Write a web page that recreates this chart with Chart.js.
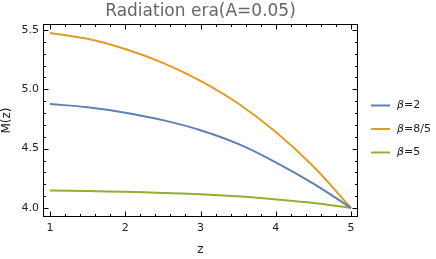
<!DOCTYPE html>
<html>
<head>
<meta charset="utf-8">
<script src="https://cdn.jsdelivr.net/npm/chart.js@4/dist/chart.umd.min.js"></script>
<style>
html,body{margin:0;padding:0;background:#fff;}
#wrap{width:436px;height:259px;position:relative;}
</style>
</head>
<body>
<div id="wrap"><canvas id="c" width="436" height="259"></canvas></div>
<script>
// ---- data ----
const zValues   = [1, 1.5, 2, 2.5, 3, 3.5, 4, 4.5, 5];
const beta2     = [4.876, 4.848, 4.803, 4.740, 4.655, 4.540, 4.385, 4.205, 4.000];
const beta8_5   = [5.475, 5.425, 5.340, 5.222, 5.070, 4.880, 4.640, 4.350, 4.000];
const beta5     = [4.148, 4.143, 4.136, 4.127, 4.115, 4.098, 4.072, 4.042, 4.000];
const seriesLabels = ['=2', '=8/5', '=5'];
const xTicks = [1, 2, 3, 4, 5];
const yTicks = [4.0, 4.5, 5.0, 5.5];
const titleText = 'Radiation era(A=0.05)';

const colors = ['#5E81B5', '#E19C24', '#8FB032'];
const FONT = 'DejaVu Sans';

function pts(ys){ return zValues.map((z,i)=>({x:z, y:ys[i]})); }

const framePlugin = {
  id: 'frame',
  afterDatasetsDraw(chart){
    const ctx = chart.ctx, a = chart.chartArea;
    const xs = chart.scales.x, ys = chart.scales.y;
    ctx.save();
    ctx.strokeStyle = '#000';
    ctx.lineWidth = 1;
    const L = Math.round(a.left)+0.5, R = Math.round(a.right)-0.5;
    const T = Math.round(a.top)+0.5, B = Math.round(a.bottom)-0.5;
    ctx.strokeRect(L, T, R-L, B-T);
    ctx.beginPath();
    for (let v = 1; v <= 5.0001; v += 0.2) {
      const major = Math.abs(v - Math.round(v)) < 1e-6;
      const len = major ? 5 : 2.5;
      const px = Math.round(xs.getPixelForValue(v)) + 0.5;
      ctx.moveTo(px, B); ctx.lineTo(px, B - len);
      ctx.moveTo(px, T); ctx.lineTo(px, T + len);
    }
    for (let v = 4.0; v <= 5.5001; v += 0.1) {
      const major = Math.abs(v*2 - Math.round(v*2)) < 1e-6;
      const len = major ? 5 : 2.5;
      const py = Math.round(ys.getPixelForValue(v)) + 0.5;
      ctx.moveTo(L, py); ctx.lineTo(L + len, py);
      ctx.moveTo(R, py); ctx.lineTo(R - len, py);
    }
    ctx.stroke();
    ctx.restore();
  },
  afterDraw(chart){
    const ctx = chart.ctx, a = chart.chartArea;
    ctx.save();
    ctx.fillStyle = '#666';
    ctx.font = '17px "' + FONT + '"';
    ctx.textAlign = 'center';
    ctx.textBaseline = 'middle';
    ctx.fillText(titleText, (a.left + a.right)/2, 12);
    const lx = 371, ly0 = 105.5, dy = 23.5;
    chart.data.datasets.forEach((ds, i) => {
      const y = ly0 + i*dy;
      ctx.strokeStyle = ds.borderColor;
      ctx.lineWidth = 2;
      ctx.beginPath(); ctx.moveTo(lx, y); ctx.lineTo(lx + 19, y); ctx.stroke();
      ctx.fillStyle = '#222';
      ctx.textAlign = 'left';
      ctx.textBaseline = 'middle';
      ctx.font = 'italic 11px "' + FONT + '"';
      ctx.fillText('β', lx + 26, y);
      const w = ctx.measureText('β').width;
      ctx.font = '11px "' + FONT + '"';
      ctx.fillText(seriesLabels[i], lx + 26 + w, y);
    });
    ctx.restore();
  }
};

new Chart(document.getElementById('c'), {
  type: 'line',
  data: {
    datasets: [
      {label: 'β=2',   data: pts(beta2),   borderColor: colors[0]},
      {label: 'β=8/5', data: pts(beta8_5), borderColor: colors[1]},
      {label: 'β=5',   data: pts(beta5),   borderColor: colors[2]}
    ].map(d => Object.assign(d, {borderWidth: 2, pointRadius: 0, fill: false, tension: 0.4}))
  },
  options: {
    responsive: false,
    animation: false,
    layout: {padding: {top: 24, right: 78, left: 0, bottom: 0}},
    plugins: {legend: {display: false}, title: {display: false}, tooltip: {enabled: false}},
    scales: {
      x: {
        type: 'linear', min: 0.907, max: 5.093,
        afterBuildTicks: s => { s.ticks = xTicks.map(v => ({value: v})); },
        afterFit: s => { s.height = 42; },
        grid: {display: false, drawTicks: false}, border: {display: false},
        ticks: {padding: 5, color: '#222', font: {family: FONT, size: 11}, callback: v => String(v)},
        title: {display: true, text: 'z', color: '#222', font: {family: FONT, size: 12}, padding: {top: 2, bottom: 2}}
      },
      y: {
        type: 'linear', min: 3.924, max: 5.55,
        afterBuildTicks: s => { s.ticks = yTicks.map(v => ({value: v})); },
        afterFit: s => { s.width = 43; },
        grid: {display: false, drawTicks: false}, border: {display: false},
        ticks: {padding: 4, color: '#222', font: {family: FONT, size: 11}, callback: v => v.toFixed(1)},
        title: {display: true, text: 'M(z)', color: '#222', font: {family: FONT, size: 12}, padding: {top: 0, bottom: 0}}
      }
    }
  },
  plugins: [framePlugin]
});
</script>
</body>
</html>
